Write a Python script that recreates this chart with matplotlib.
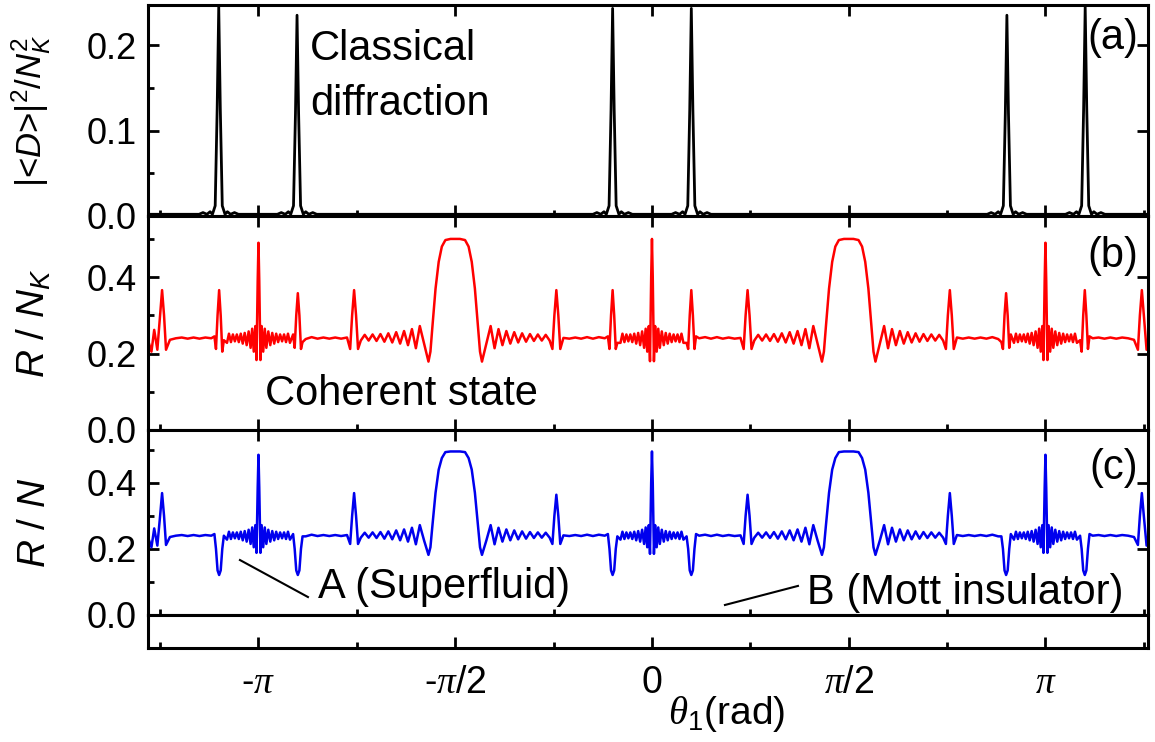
import numpy as np
import matplotlib.pyplot as plt
from matplotlib.ticker import MultipleLocator, FixedLocator, FixedFormatter

plt.rcParams['font.family'] = ['Liberation Sans', 'DejaVu Sans']
plt.rcParams['mathtext.fontset'] = 'custom'
plt.rcParams['mathtext.rm'] = 'Liberation Sans'
plt.rcParams['mathtext.it'] = 'Liberation Sans:italic'
plt.rcParams['mathtext.cal'] = 'Liberation Serif:italic'

# theta_1 in units of pi
# (a) classical diffraction |<D>|^2/N_K^2
t_a = [-1.285, -1.200,
       -1.151, -1.141, -1.131, -1.123, -1.117, -1.110, -1.105, -1.101, -1.097, -1.092, -1.085, -1.079, -1.071, -1.061, -1.051,
       -0.952, -0.942, -0.932, -0.924, -0.918, -0.911, -0.906, -0.902, -0.898, -0.893, -0.886, -0.880, -0.872, -0.862, -0.852,
       -0.800,
       -0.150, -0.140, -0.130, -0.122, -0.116, -0.109, -0.104, -0.100, -0.096, -0.091, -0.084, -0.078, -0.070, -0.060, -0.050,
       0.050, 0.060, 0.070, 0.078, 0.084, 0.091, 0.096, 0.100, 0.104, 0.109, 0.116, 0.122, 0.130, 0.140, 0.150,
       0.800,
       0.852, 0.862, 0.872, 0.880, 0.886, 0.893, 0.898, 0.902, 0.906, 0.911, 0.918, 0.924, 0.932, 0.942, 0.952,
       1.051, 1.061, 1.071, 1.079, 1.085, 1.092, 1.097, 1.101, 1.105, 1.110, 1.117, 1.123, 1.131, 1.141, 1.151,
       1.200, 1.285]
d_a = [0.002, 0.002,
       0.002, 0.004, 0.002, 0.005, 0.002, 0.012, 0.125, 0.245, 0.125, 0.012, 0.002, 0.005, 0.002, 0.004, 0.002,
       0.002, 0.004, 0.002, 0.005, 0.002, 0.012, 0.120, 0.235, 0.120, 0.012, 0.002, 0.005, 0.002, 0.004, 0.002,
       0.002,
       0.002, 0.004, 0.002, 0.005, 0.002, 0.012, 0.124, 0.243, 0.124, 0.012, 0.002, 0.005, 0.002, 0.004, 0.002,
       0.002, 0.004, 0.002, 0.005, 0.002, 0.012, 0.124, 0.243, 0.124, 0.012, 0.002, 0.005, 0.002, 0.004, 0.002,
       0.002,
       0.002, 0.004, 0.002, 0.005, 0.002, 0.012, 0.120, 0.235, 0.120, 0.012, 0.002, 0.005, 0.002, 0.004, 0.002,
       0.002, 0.004, 0.002, 0.005, 0.002, 0.012, 0.125, 0.245, 0.125, 0.012, 0.002, 0.005, 0.002, 0.004, 0.002,
       0.002, 0.002]

# (b) coherent state R/N_K and (c) R/N, on the same theta points
t_bc = [
    -1.285, -1.272, -1.265, -1.257, -1.250, -1.245, -1.240, -1.235,
    -1.225, -1.210, -1.195, -1.180, -1.165, -1.150, -1.135, -1.120,
    -1.112, -1.108, -1.104, -1.100, -1.096, -1.092, -1.088,
    -1.080, -1.075, -1.070, -1.065, -1.060, -1.055, -1.050, -1.045, -1.040, -1.035,
    -1.030, -1.025, -1.020, -1.016, -1.012, -1.008, -1.005, -1.002, -1.000, -0.998,
    -0.995, -0.992, -0.988, -0.984, -0.980, -0.975, -0.970, -0.965, -0.960, -0.955,
    -0.950, -0.945, -0.940, -0.935, -0.930, -0.925, -0.920,
    -0.912, -0.908, -0.904, -0.900, -0.896, -0.892, -0.888,
    -0.880, -0.865, -0.850, -0.835, -0.820, -0.805, -0.790, -0.775,
    -0.767, -0.762, -0.757, -0.752, -0.747,
    -0.740, -0.730, -0.720, -0.710, -0.700, -0.690, -0.680, -0.670, -0.660, -0.650,
    -0.640, -0.630, -0.620, -0.610, -0.600, -0.590, -0.579, -0.568, -0.563, -0.558,
    -0.550, -0.542, -0.534, -0.525, -0.512, -0.500, -0.488, -0.475, -0.466, -0.458,
    -0.450, -0.442, -0.437, -0.432, -0.421, -0.410, -0.400, -0.390, -0.380, -0.370,
    -0.360, -0.350, -0.340, -0.330, -0.320, -0.310, -0.300, -0.290, -0.280, -0.270,
    -0.260,
    -0.253, -0.248, -0.243, -0.238, -0.233,
    -0.225, -0.210, -0.195, -0.180, -0.165, -0.150, -0.135, -0.120,
    -0.112, -0.108, -0.104, -0.100, -0.096, -0.092, -0.088,
    -0.080, -0.075, -0.070, -0.065, -0.060, -0.055, -0.050, -0.045, -0.040, -0.035,
    -0.030, -0.025, -0.020, -0.016, -0.012, -0.008, -0.005, -0.002,
    0.000,
    0.002, 0.005, 0.008, 0.012, 0.016, 0.020, 0.025, 0.030,
    0.035, 0.040, 0.045, 0.050, 0.055, 0.060, 0.065, 0.070, 0.075, 0.080,
    0.088, 0.092, 0.096, 0.100, 0.104, 0.108, 0.112,
    0.120, 0.135, 0.150, 0.165, 0.180, 0.195, 0.210, 0.225,
    0.233, 0.238, 0.243, 0.248, 0.253,
    0.260,
    0.270, 0.280, 0.290, 0.300, 0.310, 0.320, 0.330, 0.340, 0.350, 0.360,
    0.370, 0.380, 0.390, 0.400, 0.410, 0.421, 0.432, 0.437, 0.442, 0.450,
    0.458, 0.466, 0.475, 0.488, 0.500, 0.512, 0.525, 0.534, 0.542, 0.550,
    0.558, 0.563, 0.568, 0.579, 0.590, 0.600, 0.610, 0.620, 0.630, 0.640,
    0.650, 0.660, 0.670, 0.680, 0.690, 0.700, 0.710, 0.720, 0.730, 0.740,
    0.747, 0.752, 0.757, 0.762, 0.767,
    0.775, 0.790, 0.805, 0.820, 0.835, 0.850, 0.865, 0.880,
    0.888, 0.892, 0.896, 0.900, 0.904, 0.908, 0.912,
    0.920, 0.925, 0.930, 0.935, 0.940, 0.945, 0.950,
    0.955, 0.960, 0.965, 0.970, 0.975, 0.980, 0.984, 0.988, 0.992, 0.995,
    0.998, 1.000, 1.002, 1.005, 1.008, 1.012, 1.016, 1.020, 1.025, 1.030,
    1.035, 1.040, 1.045, 1.050, 1.055, 1.060, 1.065, 1.070, 1.075, 1.080,
    1.088, 1.092, 1.096, 1.100, 1.104, 1.108, 1.112,
    1.120, 1.135, 1.150, 1.165, 1.180, 1.195, 1.210, 1.225,
    1.235, 1.240, 1.245, 1.250, 1.257, 1.265, 1.272, 1.285]

r_b = [
    0.250, 0.205, 0.262, 0.210, 0.300, 0.366, 0.300, 0.210,
    0.236, 0.240, 0.242, 0.239, 0.242, 0.239, 0.242, 0.240,
    0.245, 0.212, 0.300, 0.366, 0.300, 0.205, 0.235,
    0.228, 0.252, 0.230, 0.250, 0.232, 0.250, 0.230, 0.252, 0.226, 0.254,
    0.222, 0.258, 0.215, 0.265, 0.205, 0.272, 0.183, 0.390, 0.490, 0.390,
    0.183, 0.272, 0.205, 0.265, 0.215, 0.258, 0.222, 0.254, 0.226, 0.252,
    0.230, 0.250, 0.232, 0.250, 0.230, 0.252, 0.228,
    0.250, 0.215, 0.300, 0.358, 0.300, 0.212, 0.230,
    0.238, 0.243, 0.239, 0.242, 0.239, 0.242, 0.239, 0.242,
    0.212, 0.300, 0.366, 0.300, 0.212,
    0.234, 0.249, 0.234, 0.250, 0.233, 0.251, 0.231, 0.253, 0.229, 0.256,
    0.226, 0.259, 0.222, 0.264, 0.214, 0.272, 0.225, 0.179, 0.205, 0.270,
    0.370, 0.440, 0.480, 0.497, 0.500, 0.500, 0.500, 0.497, 0.480, 0.440,
    0.370, 0.270, 0.205, 0.179, 0.225, 0.272, 0.214, 0.264, 0.222, 0.259,
    0.226, 0.256, 0.229, 0.253, 0.231, 0.251, 0.233, 0.250, 0.234, 0.249,
    0.234,
    0.212, 0.300, 0.366, 0.300, 0.212,
    0.241, 0.239, 0.242, 0.239, 0.243, 0.239, 0.243, 0.240,
    0.245, 0.212, 0.300, 0.366, 0.300, 0.212, 0.228,
    0.228, 0.252, 0.230, 0.250, 0.232, 0.250, 0.230, 0.252, 0.226, 0.254,
    0.222, 0.258, 0.215, 0.265, 0.205, 0.272, 0.180, 0.400,
    0.500,
    0.400, 0.180, 0.272, 0.205, 0.265, 0.215, 0.258, 0.222,
    0.254, 0.226, 0.252, 0.230, 0.250, 0.232, 0.250, 0.230, 0.252, 0.228,
    0.228, 0.212, 0.300, 0.366, 0.300, 0.212, 0.245,
    0.240, 0.243, 0.239, 0.243, 0.239, 0.242, 0.239, 0.241,
    0.212, 0.300, 0.366, 0.300, 0.212,
    0.234,
    0.249, 0.234, 0.250, 0.233, 0.251, 0.231, 0.253, 0.229, 0.256, 0.226,
    0.259, 0.222, 0.264, 0.214, 0.272, 0.225, 0.179, 0.205, 0.270, 0.370,
    0.440, 0.480, 0.497, 0.500, 0.500, 0.500, 0.497, 0.480, 0.440, 0.370,
    0.270, 0.205, 0.179, 0.225, 0.272, 0.214, 0.264, 0.222, 0.259, 0.226,
    0.256, 0.229, 0.253, 0.231, 0.251, 0.233, 0.250, 0.234, 0.249, 0.234,
    0.212, 0.300, 0.366, 0.300, 0.212,
    0.242, 0.239, 0.242, 0.239, 0.242, 0.239, 0.243, 0.238,
    0.230, 0.212, 0.300, 0.358, 0.300, 0.215, 0.250,
    0.228, 0.252, 0.230, 0.250, 0.232, 0.250, 0.230,
    0.252, 0.226, 0.254, 0.222, 0.258, 0.215, 0.265, 0.205, 0.272, 0.183,
    0.390, 0.490, 0.390, 0.183, 0.272, 0.205, 0.265, 0.215, 0.258, 0.222,
    0.254, 0.226, 0.252, 0.230, 0.250, 0.232, 0.250, 0.230, 0.252, 0.228,
    0.235, 0.205, 0.300, 0.366, 0.300, 0.212, 0.245,
    0.240, 0.242, 0.239, 0.242, 0.239, 0.242, 0.240, 0.236,
    0.210, 0.300, 0.366, 0.300, 0.210, 0.262, 0.205, 0.250]

r_c = [
    0.250, 0.205, 0.262, 0.210, 0.300, 0.369, 0.300, 0.212,
    0.236, 0.240, 0.242, 0.239, 0.242, 0.239, 0.242, 0.240,
    0.245, 0.200, 0.135, 0.121, 0.135, 0.200, 0.240,
    0.228, 0.252, 0.230, 0.250, 0.232, 0.250, 0.230, 0.252, 0.226, 0.254,
    0.222, 0.258, 0.215, 0.265, 0.205, 0.272, 0.188, 0.385, 0.485, 0.385,
    0.188, 0.272, 0.205, 0.265, 0.215, 0.258, 0.222, 0.254, 0.226, 0.252,
    0.230, 0.250, 0.232, 0.250, 0.230, 0.252, 0.228,
    0.245, 0.200, 0.135, 0.121, 0.135, 0.200, 0.238,
    0.238, 0.243, 0.239, 0.242, 0.239, 0.242, 0.239, 0.242,
    0.215, 0.300, 0.369, 0.300, 0.215,
    0.234, 0.249, 0.234, 0.250, 0.233, 0.251, 0.231, 0.253, 0.229, 0.256,
    0.226, 0.259, 0.222, 0.264, 0.214, 0.272, 0.225, 0.182, 0.205, 0.270,
    0.370, 0.440, 0.475, 0.493, 0.495, 0.495, 0.495, 0.493, 0.475, 0.440,
    0.370, 0.270, 0.205, 0.182, 0.225, 0.272, 0.214, 0.264, 0.222, 0.259,
    0.226, 0.256, 0.229, 0.253, 0.231, 0.251, 0.233, 0.250, 0.234, 0.249,
    0.234,
    0.215, 0.300, 0.364, 0.300, 0.215,
    0.241, 0.239, 0.242, 0.239, 0.243, 0.239, 0.243, 0.240,
    0.245, 0.200, 0.135, 0.121, 0.135, 0.200, 0.238,
    0.228, 0.252, 0.230, 0.250, 0.232, 0.250, 0.230, 0.252, 0.226, 0.254,
    0.222, 0.258, 0.215, 0.265, 0.205, 0.272, 0.185, 0.400,
    0.495,
    0.400, 0.185, 0.272, 0.205, 0.265, 0.215, 0.258, 0.222,
    0.254, 0.226, 0.252, 0.230, 0.250, 0.232, 0.250, 0.230, 0.252, 0.228,
    0.238, 0.200, 0.135, 0.121, 0.135, 0.200, 0.245,
    0.240, 0.243, 0.239, 0.243, 0.239, 0.242, 0.239, 0.241,
    0.215, 0.300, 0.364, 0.300, 0.215,
    0.234,
    0.249, 0.234, 0.250, 0.233, 0.251, 0.231, 0.253, 0.229, 0.256, 0.226,
    0.259, 0.222, 0.264, 0.214, 0.272, 0.225, 0.182, 0.205, 0.270, 0.370,
    0.440, 0.475, 0.493, 0.495, 0.495, 0.495, 0.493, 0.475, 0.440, 0.370,
    0.270, 0.205, 0.182, 0.225, 0.272, 0.214, 0.264, 0.222, 0.259, 0.226,
    0.256, 0.229, 0.253, 0.231, 0.251, 0.233, 0.250, 0.234, 0.249, 0.234,
    0.215, 0.300, 0.369, 0.300, 0.215,
    0.242, 0.239, 0.242, 0.239, 0.242, 0.239, 0.243, 0.238,
    0.238, 0.200, 0.135, 0.121, 0.135, 0.200, 0.245,
    0.228, 0.252, 0.230, 0.250, 0.232, 0.250, 0.230,
    0.252, 0.226, 0.254, 0.222, 0.258, 0.215, 0.265, 0.205, 0.272, 0.188,
    0.385, 0.485, 0.385, 0.188, 0.272, 0.205, 0.265, 0.215, 0.258, 0.222,
    0.254, 0.226, 0.252, 0.230, 0.250, 0.232, 0.250, 0.230, 0.252, 0.228,
    0.240, 0.200, 0.135, 0.121, 0.135, 0.200, 0.245,
    0.240, 0.242, 0.239, 0.242, 0.239, 0.242, 0.240, 0.236,
    0.212, 0.300, 0.369, 0.300, 0.210, 0.262, 0.205, 0.250]

assert len(t_a) == len(d_a)
assert len(t_bc) == len(r_b) == len(r_c), (len(t_bc), len(r_b), len(r_c))

pi_ticks = [-np.pi, -np.pi / 2, 0, np.pi / 2, np.pi]
pi_labels = [r'-$\mathcal{\pi}$', r'-$\mathcal{\pi}$/2', '0', r'$\mathcal{\pi}$/2', r'$\mathcal{\pi}$']
xlim = (-4.024, 3.960)

fig = plt.figure(figsize=(11.55, 7.42), dpi=100)
L, W = 0.1281, 0.8658
ax_a = fig.add_axes([L, 0.7089, W, 0.2844])
ax_b = fig.add_axes([L, 0.4205, W, 0.2884])
ax_c = fig.add_axes([L, 0.1712, W, 0.2493])
ax_d = fig.add_axes([L, 0.1267, W, 0.0445])

ax_a.plot(np.array(t_a) * np.pi, d_a, color='black', lw=2.0)
ax_b.plot(np.array(t_bc) * np.pi, r_b, color='#ff0000', lw=1.8)
ax_c.plot(np.array(t_bc) * np.pi, r_c, color='#0000ee', lw=1.8)

for ax in (ax_a, ax_b, ax_c, ax_d):
    ax.set_xlim(*xlim)
    ax.xaxis.set_major_locator(FixedLocator(pi_ticks))
    ax.xaxis.set_minor_locator(MultipleLocator(np.pi / 4))
    for s in ax.spines.values():
        s.set_linewidth(2.2)
    ax.tick_params(which='both', direction='in', width=2.0, labelsize=26)
    ax.tick_params(which='major', length=8)
    ax.tick_params(which='minor', length=4.5)
    ax.tick_params(axis='x', labelbottom=False, labeltop=False, top=True, bottom=True)
    ax.tick_params(axis='y', left=True, right=True, pad=8)

ax_c.tick_params(axis='x', bottom=False)
ax_d.tick_params(axis='x', top=False, labelbottom=True, pad=12, labelsize=27)
ax_d.tick_params(axis='y', left=False, right=False, labelleft=False)
ax_d.xaxis.set_major_formatter(FixedFormatter(pi_labels))
ax_d.set_ylim(0, 1)

ax_a.set_ylim(0, 0.247)
ax_a.yaxis.set_major_locator(MultipleLocator(0.1))
ax_a.yaxis.set_minor_locator(MultipleLocator(0.05))
for ax in (ax_b, ax_c):
    ax.set_ylim(0, 0.56)
    ax.yaxis.set_major_locator(MultipleLocator(0.2))
    ax.yaxis.set_minor_locator(MultipleLocator(0.1))

ax_a.set_ylabel(r'|<$D$>$|^2$/$N_K^2$', fontsize=25)
ax_b.set_ylabel(r'$R$ / $N_K$', fontsize=28)
ax_c.set_ylabel(r'$R$ / $N$', fontsize=28)
for ax in (ax_a, ax_b, ax_c):
    ax.yaxis.set_label_coords(-0.095, 0.5)

fig.text(0.629, 0.038, r'$\mathcal{\theta}_1$(rad)', fontsize=28, ha='center', va='center')

big = 30
ax_a.text(0.162, 0.739, 'Classical', transform=ax_a.transAxes, fontsize=big)
ax_a.text(0.162, 0.479, 'diffraction', transform=ax_a.transAxes, fontsize=big)
ax_a.text(0.99, 0.844, '(a)', transform=ax_a.transAxes, fontsize=big, ha='right', va='center')
ax_b.text(0.117, 0.117, 'Coherent state', transform=ax_b.transAxes, fontsize=big)
ax_b.text(0.99, 0.813, '(b)', transform=ax_b.transAxes, fontsize=big, ha='right', va='center')
ax_c.text(0.99, 0.795, '(c)', transform=ax_c.transAxes, fontsize=big, ha='right', va='center')
ax_c.text(0.170, 0.092, 'A (Superfluid)', transform=ax_c.transAxes, fontsize=big)
ax_c.text(0.659, 0.059, 'B (Mott insulator)', transform=ax_c.transAxes, fontsize=big)
ax_c.plot([0.092, 0.160], [0.297, 0.097], transform=ax_c.transAxes, color='black', lw=1.5)
ax_c.plot([0.577, 0.650], [0.054, 0.157], transform=ax_c.transAxes, color='black', lw=1.5)

fig.savefig('out.png', dpi=100)
